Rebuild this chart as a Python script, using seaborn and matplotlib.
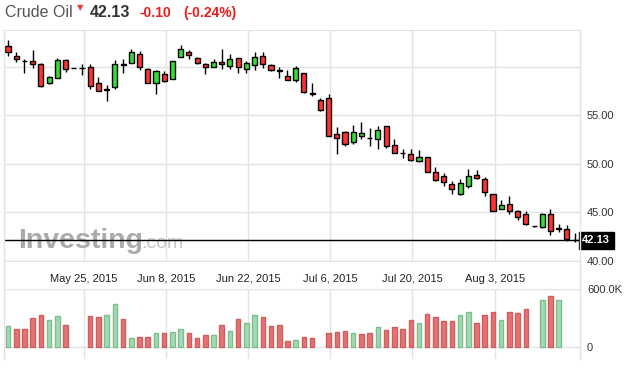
import numpy as np
import pandas as pd
import matplotlib
matplotlib.use('Agg')
import matplotlib.pyplot as plt
import matplotlib.transforms as mtransforms
from matplotlib.lines import Line2D
import seaborn as sns

# daily OHLC
opens = [62.14, 61.08, 60.62, 60.57, 60.26, 58.30, 58.82, 60.67, 59.90, 59.90,
         60.01, 58.30, 57.61, 57.89, 60.29, 60.36, 61.32, 59.74, 58.30, 59.23,
         58.71, 60.98, 61.49, 60.88, 60.26, 59.95, 60.46, 60.05, 60.88, 59.74,
         60.15, 61.08, 60.15, 59.67, 59.02, 58.61, 59.33, 57.30, 56.55, 56.76,
         53.05, 53.25, 52.22, 52.84, 52.66, 52.53, 53.87, 51.95, 51.17, 51.05,
         50.27, 50.68, 49.20, 48.72, 47.96, 46.93, 47.76, 48.83, 48.41, 46.87,
         45.32, 45.90, 45.12, 44.81, 43.58, 43.53, 44.81, 43.30, 43.26, 42.16]
highs = [62.73, 61.52, 60.83, 61.70, 60.39, 59.05, 60.88, 60.83, 59.90, 60.26,
         60.32, 58.92, 58.13, 60.67, 60.77, 61.83, 61.60, 59.85, 59.64, 59.54,
         60.57, 62.24, 61.70, 60.98, 60.36, 60.77, 61.80, 61.29, 60.88, 60.57,
         61.49, 61.49, 60.26, 59.95, 59.64, 60.05, 59.40, 58.30, 56.76, 57.17,
         53.77, 53.36, 53.98, 54.28, 53.67, 53.87, 53.90, 52.53, 51.53, 51.53,
         51.40, 50.68, 49.65, 49.03, 48.21, 48.41, 49.44, 49.34, 48.62, 46.90,
         46.25, 46.66, 45.28, 45.12, 43.62, 44.90, 45.36, 43.78, 43.71, 42.85]
lows = [61.08, 60.46, 59.39, 59.91, 57.95, 58.20, 58.82, 59.43, 59.86, 59.19,
        57.74, 57.48, 56.51, 57.74, 59.39, 60.36, 59.67, 58.30, 57.23, 58.40,
        58.71, 60.98, 60.77, 60.26, 59.23, 59.95, 59.74, 59.74, 59.33, 59.33,
        59.64, 59.85, 59.54, 58.82, 58.61, 58.40, 57.27, 56.96, 55.45, 52.84,
        50.99, 51.80, 52.10, 52.53, 51.81, 51.50, 51.61, 51.15, 50.58, 50.27,
        50.16, 49.13, 48.27, 47.76, 46.93, 46.83, 47.49, 48.41, 46.73, 45.12,
        45.32, 44.87, 44.25, 43.74, 43.52, 43.43, 42.71, 43.02, 42.06, 41.93]
closes = [61.49, 60.77, 60.56, 60.26, 57.99, 58.92, 60.67, 59.74, 59.86, 59.86,
          57.99, 57.48, 57.67, 60.26, 60.23, 61.49, 59.95, 58.30, 59.54, 58.57,
          60.57, 61.80, 61.18, 60.36, 59.95, 60.46, 60.26, 60.77, 59.95, 60.36,
          60.98, 60.26, 59.64, 59.61, 58.61, 59.85, 57.37, 57.24, 55.52, 52.84,
          52.64, 52.02, 53.25, 53.15, 52.62, 53.46, 51.84, 51.15, 51.13, 50.37,
          50.74, 49.13, 48.37, 48.10, 47.42, 48.00, 48.72, 48.52, 47.08, 45.12,
          45.74, 45.12, 44.56, 43.84, 43.56, 44.87, 43.12, 43.36, 42.27, 42.13]

# volume in thousands, and whether the volume bar is green
volumes = [221, 190, 190, 303, 334, 283, 324, 231, 0, 0,
           324, 314, 334, 448, 293, 96, 107, 107, 148, 148,
           159, 190, 148, 96, 128, 128, 231, 169, 293, 252,
           334, 314, 221, 231, 66, 76, 107, 96, 0, 148,
           159, 169, 148, 138, 148, 210, 179, 210, 190, 283,
           252, 345, 314, 272, 272, 334, 366, 252, 334, 366,
           283, 366, 355, 396, 0, 490, 531, 490, 0, 0]
volume_up = [1, 0, 0, 0, 0, 1, 1, 0, 0, 0,
             0, 0, 1, 1, 0, 1, 0, 0, 1, 0,
             1, 1, 0, 0, 0, 1, 0, 1, 0, 1,
             1, 0, 0, 0, 0, 1, 0, 0, 0, 0,
             0, 0, 1, 0, 0, 1, 0, 0, 0, 0,
             1, 0, 0, 0, 0, 1, 1, 0, 0, 0,
             1, 0, 0, 0, 0, 1, 0, 1, 0, 0]

date_labels = ['May 25, 2015', 'Jun 8, 2015', 'Jun 22, 2015', 'Jul 6, 2015', 'Jul 20, 2015', 'Aug 3, 2015']
date_ticks = [9.2, 19.2, 29.2, 39.2, 49.2, 59.2]
price_ticks = [40, 45, 50, 55, 60]
price_labels = ['40.00', '45.00', '50.00', '55.00', '']
vol_ticks = [0, 600]
vol_labels = ['0', '600.0K']
last_price = 42.13

sns.set_style('white')
plt.rcParams['font.family'] = ['Liberation Sans', 'DejaVu Sans']

W, H = 625, 371
fig = plt.figure(figsize=(W / 100, H / 100), dpi=100)


def box(l, t, r, b):
    return [l / W, 1 - b / H, (r - l) / W, (b - t) / H]


gridc = '#e3e3ea'
ax = fig.add_axes(box(4, 30, 580, 261))
axv = fig.add_axes(box(4, 289.3, 580, 359))

x = np.arange(len(opens))
o, h, l, c = (np.array(v) for v in (opens, highs, lows, closes))
up = c > o

# watermark
wy = (261 - 248.3) / 231
ax.text(14 / 576, wy, 'Investing', transform=ax.transAxes, ha='left', va='baseline',
        fontsize=20.5, fontweight='bold', color='#ababab', zorder=1)
ax.text(137 / 576, wy, '.com', transform=ax.transAxes, ha='left', va='baseline',
        fontsize=14, color='#c6c6c6', zorder=1)

ax.vlines(x, l, h, color='black', linewidth=1, zorder=3)
ax.bar(x, np.maximum(np.abs(c - o), 0.03), bottom=np.minimum(o, c), width=0.62,
       color=np.where(up, '#33dd33', '#ff3333'), edgecolor='black', linewidth=1, zorder=4)
ax.axhline(last_price, color='black', linewidth=1, zorder=5)
trans = mtransforms.blended_transform_factory(ax.transAxes, ax.transData)
ax.text(1.004, last_price, '42.13', transform=trans, ha='left', va='center', color='white',
        fontsize=8, fontweight='bold', clip_on=False,
        bbox=dict(boxstyle='square,pad=0.3', fc='black', ec='black'))

ax.set_xlim(-0.49, 69.59)
ax.set_ylim(40, 63.79)
ax.set_xticks(date_ticks)
ax.set_xticklabels(date_labels, fontsize=8, color='#222222')
ax.tick_params(axis='x', length=0, pad=9)
ax.yaxis.tick_right()
ax.set_yticks(price_ticks)
ax.set_yticklabels(price_labels, fontsize=8, color='#333333')
ax.tick_params(axis='y', length=0, pad=5)
ax.grid(True, color=gridc, linewidth=1)
ax.set_axisbelow(True)
for s in ['left', 'right']:
    ax.spines[s].set_visible(False)
for s in ['top', 'bottom']:
    ax.spines[s].set_color(gridc)

# volume
df = pd.DataFrame({'x': x, 'vol': volumes, 'side': np.where(np.array(volume_up) == 1, 'up', 'down')})
df = df[df.vol > 0]
fills = {'up': '#a6d9b3', 'down': '#e27474'}
edges = {'up': '#7cbf8e', 'down': '#d35c5c'}
sns.barplot(data=df, x='x', y='vol', hue='side', palette=fills, native_scale=True, dodge=False,
            width=0.55, errorbar=None, legend=False, ax=axv, linewidth=1, saturation=1)
for p in axv.patches:
    fc = matplotlib.colors.to_hex(p.get_facecolor())
    p.set_edgecolor(edges['up'] if fc == fills['up'] else edges['down'])
axv.set_xlabel('')
axv.set_ylabel('')
axv.set_xlim(-0.49, 69.59)
axv.set_ylim(-121, 600)
axv.set_xticks(date_ticks)
axv.set_xticklabels([])
axv.tick_params(axis='x', length=0)
axv.yaxis.tick_right()
axv.set_yticks(vol_ticks)
axv.set_yticklabels(vol_labels, fontsize=8, color='#333333')
axv.tick_params(axis='y', length=0, pad=5)
axv.grid(True, color=gridc, linewidth=1)
axv.set_axisbelow(True)
for s in ['left', 'right', 'bottom']:
    axv.spines[s].set_visible(False)
axv.spines['top'].set_color(gridc)

for xs in (4, 580):
    fig.add_artist(Line2D([xs / W, xs / W], [1 - 30 / H, 1 - 359 / H], color=gridc, linewidth=1))

# header
base = 1 - 16.7 / H
fig.text(5 / W, base, 'Crude Oil', fontsize=11.5, color='#555555', va='baseline')
fig.text(80 / W, 1 - 7.5 / H, '▼', fontsize=6, color='#e8413c', ha='center', va='center',
         family=['DejaVu Sans'])
fig.text(90 / W, base, '42.13', fontsize=11.5, fontweight='bold', color='#333333', va='baseline')
fig.text(140 / W, base, '-0.10', fontsize=10, fontweight='bold', color='#ee1c1c', va='baseline')
fig.text(183 / W, base, '(-0.24%)', fontsize=10, fontweight='bold', color='#ee1c1c', va='baseline')

fig.savefig('out.png', dpi=100)
